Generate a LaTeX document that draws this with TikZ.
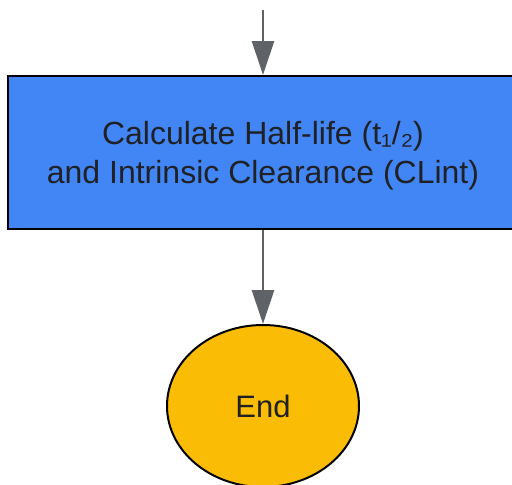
\documentclass[tikz,border=0pt]{standalone}
\usepackage{fontspec}
\setmainfont{Liberation Sans}
\usetikzlibrary{arrows.meta,shapes.geometric}
\definecolor{boxblue}{HTML}{4285F4}
\definecolor{endyellow}{HTML}{FBBC05}
\definecolor{arrowgray}{HTML}{5F6368}
\definecolor{textdark}{HTML}{202124}
\begin{document}
\begin{tikzpicture}[x=1pt,y=-1pt,
  procbox/.style={draw=black,line width=2pt,fill=boxblue,rectangle,minimum width=510pt,minimum height=153pt,inner sep=0pt},
  proctext/.style={align=center,text=textdark,inner sep=0pt,font=\fontsize{32}{39}\selectfont},
  endnode/.style={draw=black,line width=2pt,fill=endyellow,ellipse,minimum width=192pt,minimum height=162pt,inner sep=0pt,text=textdark,font=\fontsize{31}{37}\selectfont},
  flow/.style={draw=arrowgray,line width=2.6pt,-{Triangle[width=22pt,length=34pt]}}]
\useasboundingbox (0,0) rectangle (512,485);
\coordinate (start) at (263,10);
\node[procbox] (calc) at (263,152.5) {};
\node[proctext] (calctext) at (263,155.5) {Calculate Half-life (t₁/₂)\\and Intrinsic Clearance (CLint)};
\node[endnode] (end) at (263,406) {End};
\draw[flow] (start) -- (calc.north);
\draw[flow] (calc.south) -- (end.north);
\end{tikzpicture}
\end{document}
